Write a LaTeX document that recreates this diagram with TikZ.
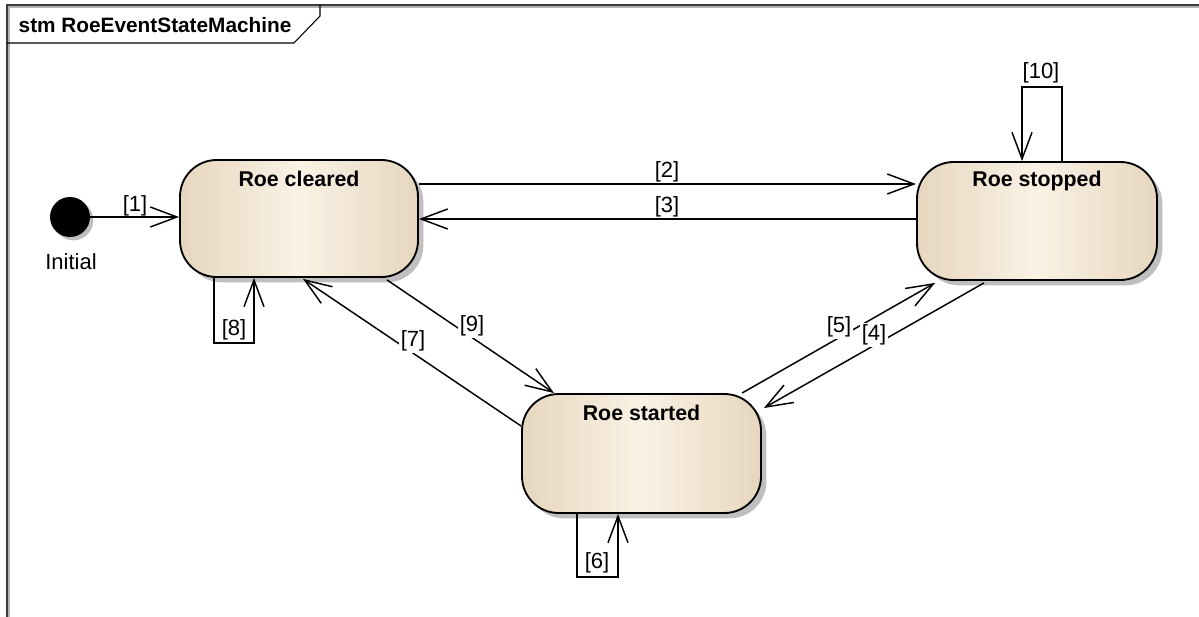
\documentclass[tikz,border=0pt]{standalone}
\usepackage{fontspec}
\setmainfont{Liberation Sans}
\usetikzlibrary{arrows.meta,calc,shadows}
\definecolor{stTan}{RGB}{230,214,190}
\definecolor{stCream}{RGB}{250,242,229}
\definecolor{frameGray}{RGB}{60,60,60}
\tikzset{
  statebox/.style={draw=black, line width=1.4pt, rounded corners=27.5pt,
    left color=stTan, right color=stTan, middle color=stCream,
    drop shadow={shadow xshift=4pt, shadow yshift=-4pt, fill=black!25, opacity=1}},
  statename/.style={anchor=center, yshift=-15pt, font=\bfseries\fontsize{16}{19}\selectfont},
  trans/.style={line width=1.1pt, -{Straight Barb[length=20pt,width=15pt,line width=1.1pt]}},
  lbl/.style={font=\fontsize{16.5}{19}\selectfont, inner sep=1pt},
  lblw/.style={lbl, fill=white},
}
\begin{document}
\begin{tikzpicture}[x=0.75pt,y=-0.75pt]
\useasboundingbox (0,0) rectangle (1199,617);
% frame
\draw[line width=2pt, black!30] (8.5,617) -- (8.5,6.5) -- (1199,6.5);
\draw[line width=1.4pt, frameGray] (7,617) -- (7,5) -- (1199,5);
\draw[line width=0.8pt] (7,43) -- (294,43) -- (320,16) -- (320,5);
\node[anchor=west, font=\bfseries\fontsize{15.6}{18}\selectfont] (title) at (14,25) {stm RoeEventStateMachine};

% initial
\node[circle, fill=black, minimum size=30pt, inner sep=0pt,
  drop shadow={shadow xshift=2.5pt, shadow yshift=-2.5pt, fill=black!25, opacity=1}] (init) at (70,217) {};
\node[lbl] (initlbl) at (71,262) {Initial};

% states
\node[statebox, minimum width=178.5pt, minimum height=87.75pt,
  label={[statename]north:Roe cleared}] (cleared) at (299,218.5) {};
\node[statebox, minimum width=180pt, minimum height=88.5pt,
  label={[statename]north:Roe stopped}] (stopped) at (1037,221) {};
\node[statebox, minimum width=179.25pt, minimum height=89.25pt,
  label={[statename]north:Roe started}] (started) at (641.5,453.5) {};

% transitions
\draw[trans] (init.east) -- (init.east -| cleared.west);
\node[lbl] (l1) at (135,206) {[1]};

\coordinate (t2s) at ($(cleared.east)+(0,-34.5)$);
\draw[trans] (t2s) -- (t2s -| stopped.west);
\node[lbl] (l2) at (667,172) {[2]};

\coordinate (t3s) at ($(stopped.west)+(0,-2)$);
\draw[trans] (t3s) -- (t3s -| cleared.east);
\node[lbl] (l3) at (667,207) {[3]};

\draw[trans] ($(stopped.north)+(25,0)$) -- ++(0,-74) -| ($(stopped.north)+(-15,0)$);
\node[lbl] (l10) at (1041,73) {[10]};

\draw[trans] ($(cleared.south)+(-85,0)$) -- ++(0,65) -| ($(cleared.south)+(-45,0)$);
\node[lbl] (l8) at (234,330) {[8]};

\draw[trans] ($(started.south)+(-64.5,0)$) -- ++(0,63) -| ($(started.south)+(-23.5,0)$);
\node[lbl] (l6) at (597,563) {[6]};

\draw[trans] ($(started.west)+(0,-27.5)$) -- ($(cleared.south)+(4,1)$);
\node[lblw] (l7) at (413,341) {[7]};

\draw[trans] ($(cleared.south)+(88,2)$) -- ($(started.north)+(-87.5,0)$);
\node[lblw] (l9) at (472,326) {[9]};

\draw[trans] ($(started.north)+(100.5,0)$) -- ($(stopped.south)+(-102,2)$);
\node[lblw] (l5) at (839,327) {[5]};

\draw[trans] ($(stopped.south)+(-53,2)$) -- ($(started.east)+(2,-45.5)$);
\node[lblw] (l4) at (874,335) {[4]};
\end{tikzpicture}
\end{document}
